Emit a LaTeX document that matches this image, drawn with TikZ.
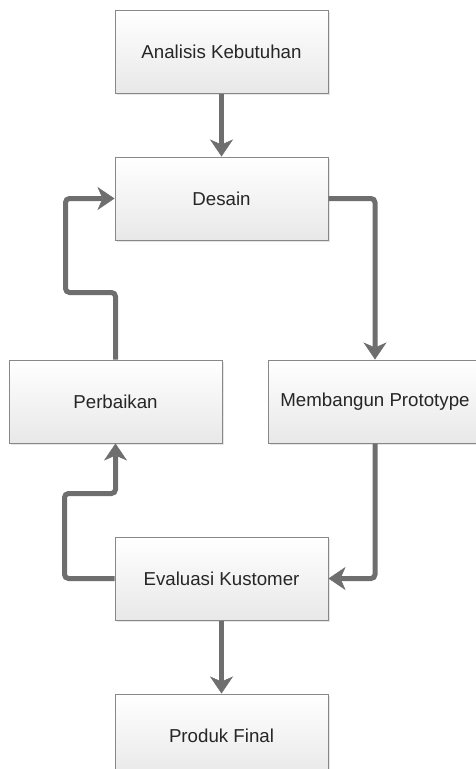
\documentclass[tikz,border=0pt]{standalone}
\usepackage{fontspec}
\setmainfont{Liberation Sans}
\usetikzlibrary{arrows.meta, shadows}
\definecolor{linegray}{HTML}{6E6E6E}
\definecolor{boxedge}{HTML}{888888}
\tikzstyle{process} = [rectangle, minimum width = 213pt, minimum height = 83pt, text centered, draw = boxedge, line width = 1pt, top color = white, bottom color = black!9, drop shadow = {opacity = 0.2, shadow xshift = 1.5pt, shadow yshift = -1.5pt}, text = black!85, font = \fontsize{18.7}{22}\selectfont]
\tikzstyle{arrow} = [line width = 5pt, draw = linegray, rounded corners = 4pt, ->, >={Stealth[length = 17pt, width = 23pt, inset = 5pt, line width = 0.5pt]}]

\begin{document}
\begin{tikzpicture}[node distance = 146.5pt]
    \useasboundingbox (0,0) rectangle (476pt,-769pt);
    \clip (0,0) rectangle (476pt,-769pt);
    \node(ana)[process] at (221.5pt,-52pt){Analisis Kebutuhan};
    \node(des)[process, below of = ana]{Desain};
    \node(per)[process, below of = des, node distance = 203pt, xshift = -106pt]{Perbaikan};
    \node(mem)[process, below of = des, node distance = 203pt, xshift = 153.5pt]{Membangun Prototype};
    \node(eva)[process, below of = des, node distance = 380pt]{Evaluasi Kustomer};
    \node(pro)[process, below of = eva, node distance = 157pt]{Produk Final};

    \draw[arrow](ana)--(des);
    \draw[arrow](des.east)-|(mem.north);
    \draw[arrow](mem.south)|-(eva.east);
    \draw[arrow](eva.west)--++(-50pt,0)--++(0,85pt)-|(per.south);
    \draw[arrow](per.north)--++(0,67pt)--++(-50pt,0)|-(des.west);
    \draw[arrow](eva)--(pro);
\end{tikzpicture}
\end{document}
